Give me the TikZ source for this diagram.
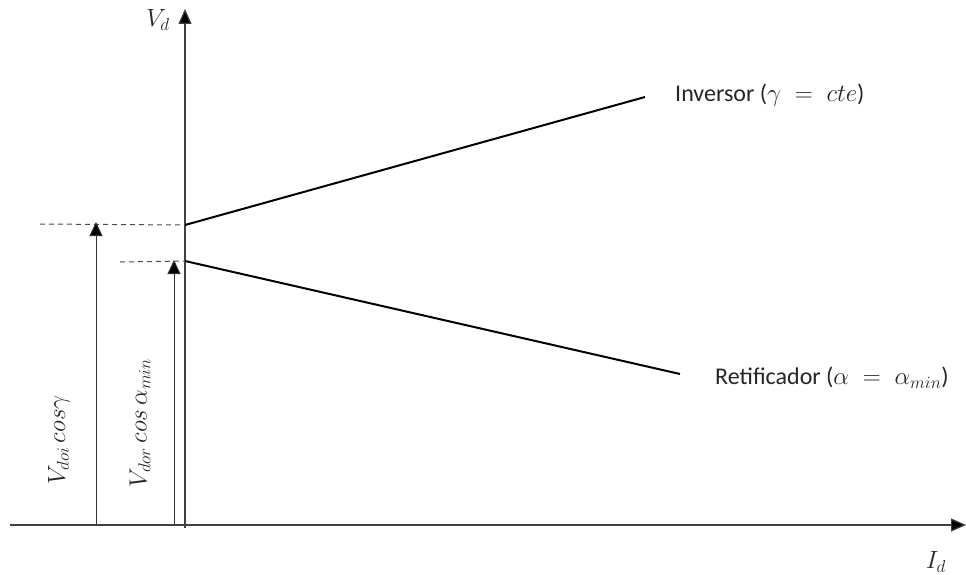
\documentclass[tikz,border=0pt]{standalone}
\usepackage{fontspec}
\setmainfont{Carlito}
\usetikzlibrary{arrows.meta}
\begin{document}
\begin{tikzpicture}[x=1pt,y=-1pt]
		\tikzstyle{axis}=[draw=black!75,line width=1.2pt,-{Triangle[length=15pt,width=13pt,fill=black]}]
		\tikzstyle{level}=[draw=black!80,line width=1pt,-{Triangle[length=14pt,width=13pt,fill=black]}]
		\tikzstyle{curve}=[draw=black,line width=2pt]
		\tikzstyle{guide}=[draw=black!70,line width=1pt,dash pattern=on 5pt off 4pt]
		\tikzstyle{lbl}=[font=\fontsize{24}{28}\selectfont,inner sep=0pt,text=black!85]
		\useasboundingbox (0,0) rectangle (966,575);
		\coordinate (o) at (185,525);
		\coordinate (x_0) at (10,525);
		\coordinate (x_1) at (966,525);
		\coordinate (y_0) at (185,528);
		\coordinate (y_1) at (185,9);
		\coordinate (inv_0) at (185,225);
		\coordinate (inv_1) at (645,97);
		\coordinate (ret_0) at (185,261);
		\coordinate (ret_1) at (680,374);
		\coordinate (d_1) at (40,224);
		\coordinate (d_2) at (120,262);
		\coordinate (a_1) at (96,525);
		\coordinate (b_1) at (96,222);
		\coordinate (a_2) at (174,525);
		\coordinate (b_2) at (174,260);
		\node[lbl] (vd) at (158,20) {$V_d$};
		\node[lbl] (id) at (936,562) {$I_d$};
		\node[lbl,anchor=west] (inv) at (675,95) {Inversor ($\gamma\;=\;cte$)};
		\node[lbl,anchor=west] (ret) at (715,378) {Retificador ($\alpha\;=\;\alpha_{min}$)};
		\node[lbl,rotate=90] (vi) at (59,440) {$V_{doi}\,cos\gamma$};
		\node[lbl,rotate=90] (vr) at (140,423) {$V_{dor}\,cos\,\alpha_{min}$};
		\draw[axis] (x_0) -- (x_1);
		\draw[axis] (y_0) -- (y_1);
		\draw[guide] (d_1) -- (inv_0) (d_2) -- (ret_0);
		\draw[curve] (inv_0) -- (inv_1) (ret_0) -- (ret_1);
		\draw[level] (a_1) -- (b_1);
		\draw[level] (a_2) -- (b_2);
	\end{tikzpicture}
\end{document}
